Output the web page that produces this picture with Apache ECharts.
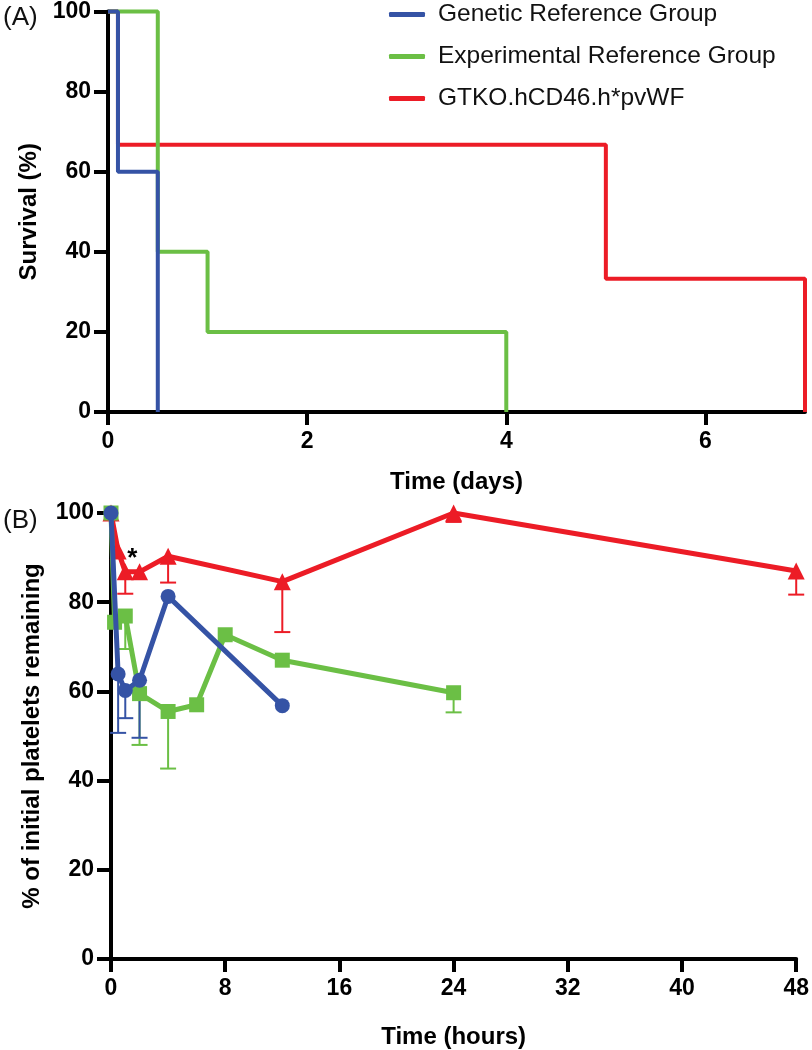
<!DOCTYPE html>
<html>
<head>
<meta charset="utf-8">
<title>Survival and platelets</title>
<script src="https://cdn.jsdelivr.net/npm/echarts@6/dist/echarts.min.js"></script>
<style>
  html, body { margin: 0; padding: 0; background: #fff; }
  #main { width: 812px; height: 1050px; }
</style>
</head>
<body>
<div id="main"></div>
<script>
// 数据：图A 生存曲线（天, %），阶梯线
const groupNames = ["Genetic Reference Group", "Experimental Reference Group", "GTKO.hCD46.h*pvWF"];
const genDays = [0, 0.1, 0.5];
const genSurv = [100, 60, 0];
const expDays = [0, 0.5, 1, 4];
const expSurv = [100, 40, 20, 0];
const gtkoDays = [0, 0.1, 5, 7];
const gtkoSurv = [100, 66.7, 33.3, 0];

// 数据：图B 血小板剩余（小时, %），误差下限（null 表示无误差棒）
const genHours = [0, 0.5, 1, 2, 4, 12];
const genPlt = [100, 63.9, 60.2, 62.5, 81.3, 56.8];
const genLow = [null, 50.7, 54.0, 49.6, null, null];
const expHours = [0, 0.25, 1, 2, 4, 6, 8, 12, 24];
const expPlt = [100, 75.5, 76.9, 59.5, 55.5, 57.0, 72.7, 67.0, 59.7];
const expLow = [null, null, 69.5, 48.0, 42.7, null, null, null, 55.3];
const gtkoHours = [0, 0.5, 1, 2, 4, 12, 24, 48];
const gtkoPlt = [100, 91.5, 86.8, 86.8, 90.3, 84.6, 100, 87.0];
const gtkoLow = [null, null, 81.9, null, 84.4, 73.3, 98.0, 81.7];

// 坐标轴刻度
const dayTicks = [0, 2, 4, 6];
const hourTicks = [0, 8, 16, 24, 32, 40, 48];
const pctTicks = [0, 20, 40, 60, 80, 100];

// 显著性标记
const starNote = { coord: [1.5, 89.8], text: "*" };

const BLUE = "#3553a5";
const GREEN = "#6bbf45";
const RED = "#ec1c26";

const tickFont = '"Liberation Sans", Arial, sans-serif';
const nameFont = '"Liberation Sans", Arial, sans-serif';

function zip(xs, ys) {
  return xs.map((x, i) => [x, ys[i]]);
}

function errData(xs, ys, lows) {
  const out = [];
  xs.forEach((x, i) => {
    if (lows[i] != null) out.push([x, lows[i], ys[i]]);
  });
  return out;
}

// 误差棒：只画向下的一半，带底部横帽
function errSeries(data, color) {
  return {
    type: "custom",
    xAxisIndex: 1,
    yAxisIndex: 1,
    z: 1,
    silent: true,
    data: data,
    renderItem: (params, api) => {
      const x = api.value(0);
      const top = api.coord([x, api.value(2)]);
      const bot = api.coord([x, api.value(1)]);
      const half = 8;
      const style = { stroke: color, lineWidth: 2 };
      return {
        type: "group",
        children: [
          { type: "line", shape: { x1: top[0], y1: top[1], x2: bot[0], y2: bot[1] }, style: style },
          { type: "line", shape: { x1: bot[0] - half, y1: bot[1], x2: bot[0] + half, y2: bot[1] }, style: style },
        ],
      };
    },
  };
}

function yAxisCfg(gridIndex, name, gap) {
  return {
    type: "value",
    gridIndex: gridIndex,
    min: 0,
    max: 100,
    interval: 20,
    name: name,
    nameLocation: "middle",
    nameGap: gap,
    nameTextStyle: { fontFamily: nameFont, fontWeight: "bold", fontSize: 24, color: "#000" },
    axisLine: { show: true, lineStyle: { color: "#000", width: 4 } },
    axisTick: { show: true, length: 14, lineStyle: { color: "#000", width: 4 }, customValues: pctTicks },
    axisLabel: { fontFamily: tickFont, fontWeight: "bold", fontSize: 23, color: "#000", margin: 17, customValues: pctTicks },
    splitLine: { show: false },
  };
}

function xAxisCfg(gridIndex, max, ticks, name, gap) {
  return {
    type: "value",
    gridIndex: gridIndex,
    min: 0,
    max: max,
    name: name,
    nameLocation: "middle",
    nameGap: gap,
    nameTextStyle: { fontFamily: nameFont, fontWeight: "bold", fontSize: 24, color: "#000" },
    axisLine: { show: true, onZero: false, lineStyle: { color: "#000", width: 4 } },
    axisTick: { show: true, length: 13, lineStyle: { color: "#000", width: 4 }, customValues: ticks },
    axisLabel: { fontFamily: tickFont, fontWeight: "bold", fontSize: 23, color: "#000", margin: 18, customValues: ticks },
    splitLine: { show: false },
  };
}

function kmSeries(name, xs, ys, color, z) {
  return {
    name: name,
    type: "line",
    xAxisIndex: 0,
    yAxisIndex: 0,
    step: "end",
    data: zip(xs, ys),
    symbol: "none",
    clip: false,
    z: z,
    lineStyle: { color: color, width: 4 },
    itemStyle: { color: color },
  };
}

function pltSeries(xs, ys, color, symbol, size, z) {
  return {
    type: "line",
    xAxisIndex: 1,
    yAxisIndex: 1,
    data: zip(xs, ys),
    symbol: symbol,
    symbolSize: size,
    clip: false,
    z: z,
    lineStyle: { color: color, width: 5 },
    itemStyle: { color: color, opacity: 1 },
  };
}

const myChart = echarts.init(document.getElementById("main"), null, { renderer: "canvas" });

const redLine = pltSeries(gtkoHours, gtkoPlt, RED, "triangle", 17, 3);
redLine.markPoint = {
  symbol: "circle",
  symbolSize: 0,
  data: [{ coord: starNote.coord }],
  label: {
    show: true,
    formatter: starNote.text,
    position: "inside",
    fontFamily: nameFont,
    fontWeight: "bold",
    fontSize: 26,
    color: "#000",
  },
};

const option = {
  animation: false,
  backgroundColor: "#fff",
  title: [
    { text: "(A)", left: -2, top: 0, textStyle: { fontFamily: nameFont, fontWeight: "normal", fontSize: 26, color: "#111" } },
    { text: "(B)", left: -2, top: 503, textStyle: { fontFamily: nameFont, fontWeight: "normal", fontSize: 26, color: "#111" } },
  ],
  legend: {
    orient: "vertical",
    left: 384,
    top: -3,
    itemWidth: 36,
    itemHeight: 5,
    itemGap: 17,
    icon: "roundRect",
    data: groupNames,
    textStyle: { fontFamily: nameFont, fontSize: 24.5, lineHeight: 25, color: "#111", padding: [0, 0, 0, 8] },
  },
  grid: [
    { left: 108, top: 10, width: 697, height: 402 },
    { left: 111, top: 513, width: 694, height: 454 },
  ],
  xAxis: [
    xAxisCfg(0, 7, dayTicks, "Time (days)", 58),
    xAxisCfg(1, 48, hourTicks, "Time (hours)", 66),
  ],
  yAxis: [
    yAxisCfg(0, "Survival (%)", 62),
    yAxisCfg(1, "% of initial platelets remaining", 65),
  ],
  series: [
    kmSeries(groupNames[2], gtkoDays, gtkoSurv, RED, 2),
    kmSeries(groupNames[1], expDays, expSurv, GREEN, 3),
    kmSeries(groupNames[0], genDays, genSurv, BLUE, 4),
    errSeries(errData(gtkoHours, gtkoPlt, gtkoLow), RED),
    errSeries(errData(expHours, expPlt, expLow), GREEN),
    errSeries(errData(genHours, genPlt, genLow), BLUE),
    redLine,
    pltSeries(expHours, expPlt, GREEN, "rect", 15, 4),
    pltSeries(genHours, genPlt, BLUE, "circle", 15, 5),
  ],
};

myChart.setOption(option);
</script>
</body>
</html>
